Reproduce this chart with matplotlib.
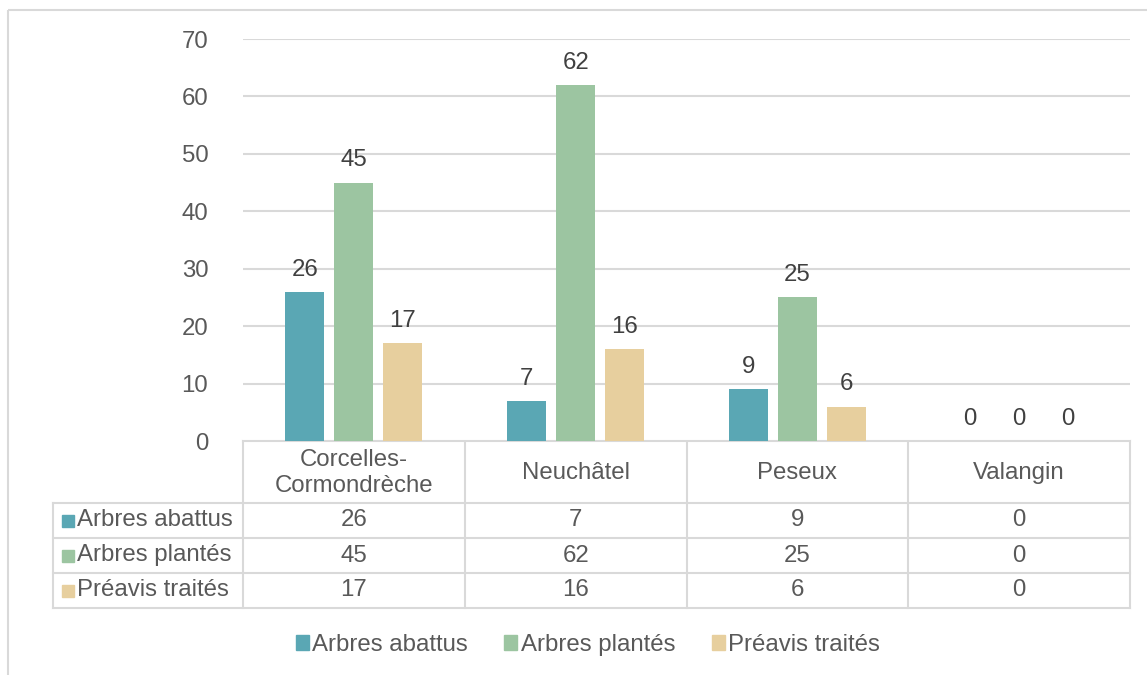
import numpy as np
import matplotlib
matplotlib.use("Agg")
import matplotlib.pyplot as plt
from matplotlib.patches import Patch, Rectangle

# donnees
communes = ["Corcelles-\nCormondrèche", "Neuchâtel", "Peseux", "Valangin"]
series = ["Arbres abattus", "Arbres plantés", "Préavis traités"]
abattus = [26, 7, 9, 0]
plantes = [45, 62, 25, 0]
preavis = [17, 16, 6, 0]
valeurs = [abattus, plantes, preavis]
couleurs = ["#5AA7B4", "#9CC5A1", "#E7CF9E"]

plt.rcParams["font.family"] = ["Liberation Sans", "DejaVu Sans"]
gris = "#595959"
ligne = "#D9D9D9"
fs = 17.3

W, H = 1147, 675
fig = plt.figure(figsize=(W / 100, H / 100), dpi=100)

# zone du graphique (en pixels)
x0, x1 = 243, 1130
y_top, y_zero = 39, 441
ax = fig.add_axes([x0 / W, 1 - y_zero / H, (x1 - x0) / W, (y_zero - y_top) / H])

x = np.arange(len(communes))
largeur = 0.176
pas = 0.221
for i, (nom, vals) in enumerate(zip(series, valeurs)):
    pos = x + (i - 1) * pas
    barres = ax.bar(pos, vals, largeur, color=couleurs[i], label=nom, zorder=3)
    for b, v in zip(barres, vals):
        ax.annotate(str(v), (b.get_x() + b.get_width() / 2, v),
                    xytext=(0, 8), textcoords="offset points",
                    ha="center", va="bottom", fontsize=fs, color="#404040")

ax.set_xlim(-0.5, len(communes) - 0.5)
ax.set_ylim(0, 70)
ax.set_yticks(range(0, 71, 10))
ax.tick_params(axis="y", length=0, pad=25, labelsize=fs, labelcolor=gris)
ax.set_xticks([])
ax.grid(axis="y", color=ligne, lw=1.5, zorder=0)
for s in ax.spines.values():
    s.set_visible(False)

# calque en pixels pour le tableau, la legende et le cadre
ov = fig.add_axes([0, 0, 1, 1], zorder=-1)
ov.set_xlim(0, W)
ov.set_ylim(H, 0)
ov.axis("off")

ov.add_patch(Rectangle((8, 10), W + 20, H + 20, fill=False, ec=ligne, lw=1.5))

col = np.linspace(x0, x1, len(communes) + 1)
lignes_y = [441, 503, 538, 573, 608]
x_lab = 53
ov.plot([x0, x1], [lignes_y[0]] * 2, color=ligne, lw=1.5)
for yy in lignes_y[1:]:
    ov.plot([x_lab, x1], [yy, yy], color=ligne, lw=1.5)
ov.plot([x_lab, x_lab], [lignes_y[1], lignes_y[-1]], color=ligne, lw=1.5)
for xx in col:
    ov.plot([xx, xx], [lignes_y[0], lignes_y[-1]], color=ligne, lw=1.5)

centres = (col[:-1] + col[1:]) / 2
for c, nom in zip(centres, communes):
    ov.text(c, (lignes_y[0] + lignes_y[1]) / 2 + 1, nom, ha="center", va="center",
            fontsize=fs, color=gris, linespacing=1.22)

for i, (nom, vals) in enumerate(zip(series, valeurs)):
    yc = (lignes_y[i + 1] + lignes_y[i + 2]) / 2
    ov.add_patch(Rectangle((62, yc - 6), 12, 12, color=couleurs[i]))
    ov.text(77, yc, nom, ha="left", va="center", fontsize=fs, color=gris)
    for c, v in zip(centres, vals):
        ov.text(c, yc, str(v), ha="center", va="center", fontsize=fs, color=gris)

poignees = [Patch(color=c, label=n) for c, n in zip(couleurs, series)]
fig.legend(handles=poignees, loc="center", bbox_to_anchor=(588 / W, 1 - 645 / H),
           ncol=3, frameon=False, fontsize=fs, labelcolor=gris,
           handlelength=0.55, handleheight=0.55, handletextpad=0.15,
           columnspacing=1.5)

fig.savefig("out.png", dpi=100)
